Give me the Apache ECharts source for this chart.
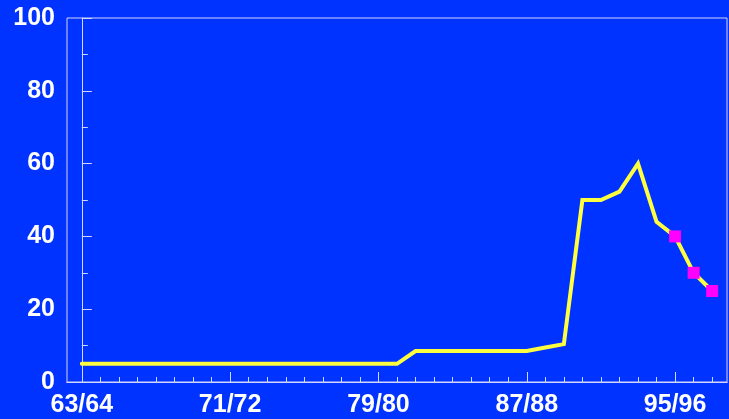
<!DOCTYPE html>
<html>
<head>
<meta charset="utf-8">
<script src="https://cdn.jsdelivr.net/npm/echarts@6/dist/echarts.min.js"></script>
<style>
  html, body { margin: 0; padding: 0; background: #0033FF; }
  #chart { width: 729px; height: 419px; }
</style>
</head>
<body>
<div id="chart"></div>
<script>
const seasons = ['63/64', '64/65', '65/66', '66/67', '67/68', '68/69', '69/70', '70/71', '71/72',
  '72/73', '73/74', '74/75', '75/76', '76/77', '77/78', '78/79', '79/80', '80/81', '81/82',
  '82/83', '83/84', '84/85', '85/86', '86/87', '87/88', '88/89', '89/90', '90/91', '91/92',
  '92/93', '93/94', '94/95', '95/96', '96/97', '97/98'];
const values = [5, 5, 5, 5, 5, 5, 5, 5, 5, 5, 5, 5, 5, 5, 5, 5, 5, 5,
  8.5, 8.5, 8.5, 8.5, 8.5, 8.5, 8.5, 9.5, 10.4, 50, 50, 52.3, 60, 44, 40, 30, 25];
// highlighted (square) seasons
const marked = ['95/96', '96/97', '97/98'];
const labelSeasons = ['63/64', '71/72', '79/80', '87/88', '95/96'];

const lineColor = '#D0D8FF';
const chart = echarts.init(document.getElementById('chart'));

const idx = seasons.map((s, i) => i);
const labelIdx = labelSeasons.map(s => seasons.indexOf(s));

const xBase = {
  type: 'value',
  position: 'bottom',
  min: -0.8,
  max: 34.8,
  splitLine: { show: false },
  axisLine: { show: true, onZero: false, lineStyle: { color: lineColor, width: 1 } }
};

chart.setOption({
  backgroundColor: '#0033FF',
  animation: false,
  grid: {
    left: 67, right: 2, top: 18, bottom: 37,
    show: true, borderColor: lineColor, borderWidth: 1, backgroundColor: 'transparent'
  },
  xAxis: [
    Object.assign({}, xBase, {
      axisTick: { show: true, inside: true, length: 5, customValues: idx, lineStyle: { color: lineColor } },
      axisLabel: {
        customValues: labelIdx,
        formatter: v => seasons[Math.round(v)],
        color: '#fff', fontWeight: 'bold', fontSize: 25,
        fontFamily: 'Liberation Sans, Arial, sans-serif', margin: 11
      }
    }),
    Object.assign({}, xBase, {
      axisTick: { show: true, inside: true, length: 10, customValues: labelIdx, lineStyle: { color: lineColor } },
      axisLabel: { show: false }
    })
  ],
  yAxis: {
    type: 'value',
    min: 0, max: 100, interval: 20,
    splitLine: { show: false },
    axisLine: { show: true, lineStyle: { color: lineColor, width: 1 } },
    axisTick: { show: true, inside: true, length: 10, lineStyle: { color: lineColor } },
    minorTick: { show: true, splitNumber: 2, length: 6, lineStyle: { color: lineColor } },
    axisLabel: {
      color: '#fff', fontWeight: 'bold', fontSize: 25,
      fontFamily: 'Liberation Sans, Arial, sans-serif', margin: 12,
      verticalAlign: 'middle', padding: [6, 0, 0, 0]
    }
  },
  series: [
    {
      type: 'line',
      data: values.map((v, i) => [i, v]),
      showSymbol: false,
      lineStyle: { color: '#FFFF40', width: 4, cap: 'round', join: 'miter' },
      z: 2
    },
    {
      type: 'scatter',
      data: marked.map(s => { const i = seasons.indexOf(s); return [i, values[i]]; }),
      symbol: 'rect',
      symbolSize: 12,
      itemStyle: { color: '#FF00FF', opacity: 1 },
      z: 3
    }
  ]
});
</script>
</body>
</html>
